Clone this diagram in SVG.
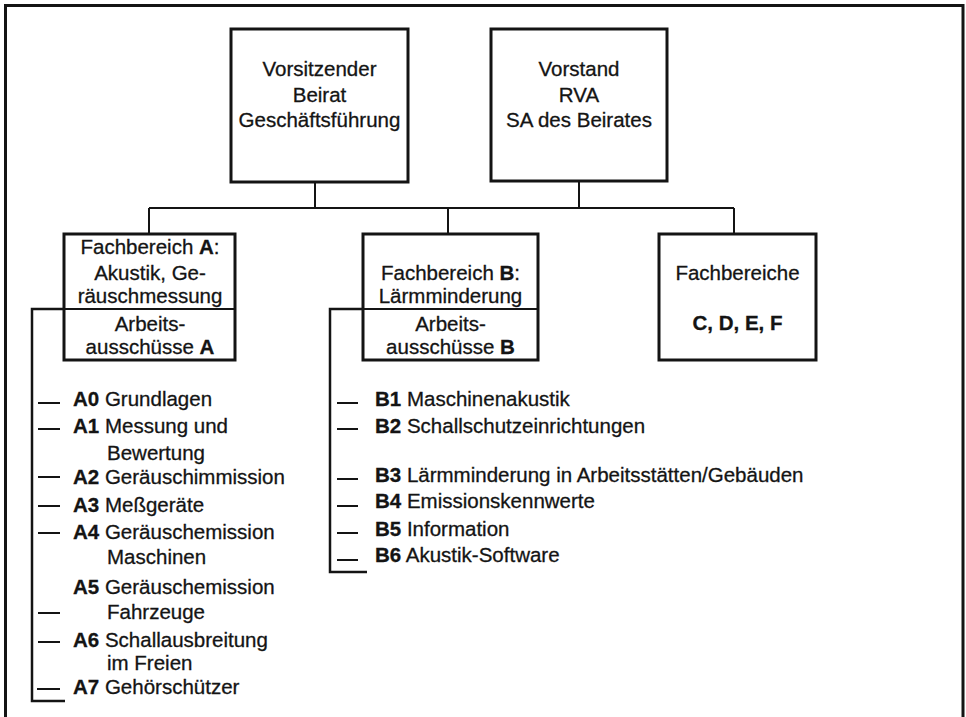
<svg xmlns="http://www.w3.org/2000/svg" width="966" height="717" viewBox="0 0 966 717">
<style>
text{font-family:"Liberation Sans",Arial,sans-serif;font-size:20.5px;fill:#141414;stroke:#141414;stroke-width:0.3}
.c{text-anchor:middle}
.b{font-weight:bold}
.box{fill:none;stroke:#141414;stroke-width:3}
.ln{fill:none;stroke:#141414;stroke-width:2}
.br{fill:none;stroke:#141414;stroke-width:2.5}
</style>
<rect width="966" height="717" fill="#fff"/>
<path d="M5.5,720 V5.5 H963 V720" fill="none" stroke="#141414" stroke-width="3"/>
<g id="connectors">
<path class="ln" d="M315,182 V208 M579,181 V208 M149,208 H734 M149,208 V234 M448,208 V234 M734,208 V234"/>
<path class="br" d="M64,309 H32 V701 H65"/>
<path class="br" d="M363,309 H330 V572 H367"/>
<path class="ln" d="M38,403 H60 M38,429 H60 M38,477 H60 M38,506 H60 M38,533 H60 M38,613 H60 M38,642 H60 M37,689 H60"/>
<path class="ln" d="M337,403 H358 M337,429 H358 M337,479 H358 M337,506 H358 M337,533 H358 M337,560 H358"/>
</g>
<g id="vorsitzender">
<rect class="box" x="231" y="29" width="177" height="153"/>
<text class="c" x="319.5" y="76">Vorsitzender</text>
<text class="c" x="319.5" y="101.5">Beirat</text>
<text class="c" x="319.5" y="127">Geschäftsführung</text>
</g>
<g id="vorstand">
<rect class="box" x="491" y="29" width="176" height="152"/>
<text class="c" x="579" y="76">Vorstand</text>
<text class="c" x="579" y="101.5">RVA</text>
<text class="c" x="579" y="127">SA des Beirates</text>
</g>
<g id="fachbereichA">
<rect class="box" x="64" y="234" width="171" height="126"/>
<line class="ln" x1="64" y1="309" x2="235" y2="309"/>
<text class="c" x="150" y="254">Fachbereich <tspan class="b">A</tspan>:</text>
<text class="c" x="150" y="280">Akustik, Ge-</text>
<text class="c" x="150" y="303">räuschmessung</text>
<text class="c" x="150" y="331">Arbeits-</text>
<text class="c" x="150" y="354">ausschüsse <tspan class="b">A</tspan></text>
</g>
<g id="fachbereichB">
<rect class="box" x="363" y="234" width="175" height="126"/>
<line class="ln" x1="363" y1="309" x2="538" y2="309"/>
<text class="c" x="450.5" y="280">Fachbereich <tspan class="b">B</tspan>:</text>
<text class="c" x="450.5" y="303">Lärmminderung</text>
<text class="c" x="450.5" y="331">Arbeits-</text>
<text class="c" x="450.5" y="354">ausschüsse <tspan class="b">B</tspan></text>
</g>
<g id="fachbereicheCDEF">
<rect class="box" x="659" y="234" width="157" height="126"/>
<text class="c" x="737.5" y="280">Fachbereiche</text>
<text class="c b" x="737.5" y="330">C, D, E, F</text>
</g>
<g id="listA">
<text x="73" y="406"><tspan class="b">A0</tspan> Grundlagen</text>
<text x="73" y="433"><tspan class="b">A1</tspan> Messung und</text>
<text x="107" y="460">Bewertung</text>
<text x="73" y="484"><tspan class="b">A2</tspan> Geräuschimmission</text>
<text x="73" y="512"><tspan class="b">A3</tspan> Meßgeräte</text>
<text x="73" y="539"><tspan class="b">A4</tspan> Geräuschemission</text>
<text x="107" y="564">Maschinen</text>
<text x="73" y="594"><tspan class="b">A5</tspan> Geräuschemission</text>
<text x="107" y="619">Fahrzeuge</text>
<text x="73" y="647"><tspan class="b">A6</tspan> Schallausbreitung</text>
<text x="107" y="670">im Freien</text>
<text x="73" y="694"><tspan class="b">A7</tspan> Gehörschützer</text>
</g>
<g id="listB">
<text x="375" y="406"><tspan class="b">B1</tspan> Maschinenakustik</text>
<text x="375" y="433"><tspan class="b">B2</tspan> Schallschutzeinrichtungen</text>
<text x="375" y="482"><tspan class="b">B3</tspan> Lärmminderung in Arbeitsstätten/Gebäuden</text>
<text x="375" y="508"><tspan class="b">B4</tspan> Emissionskennwerte</text>
<text x="375" y="536"><tspan class="b">B5</tspan> Information</text>
<text x="375" y="562"><tspan class="b">B6</tspan> Akustik-Software</text>
</g>
</svg>
